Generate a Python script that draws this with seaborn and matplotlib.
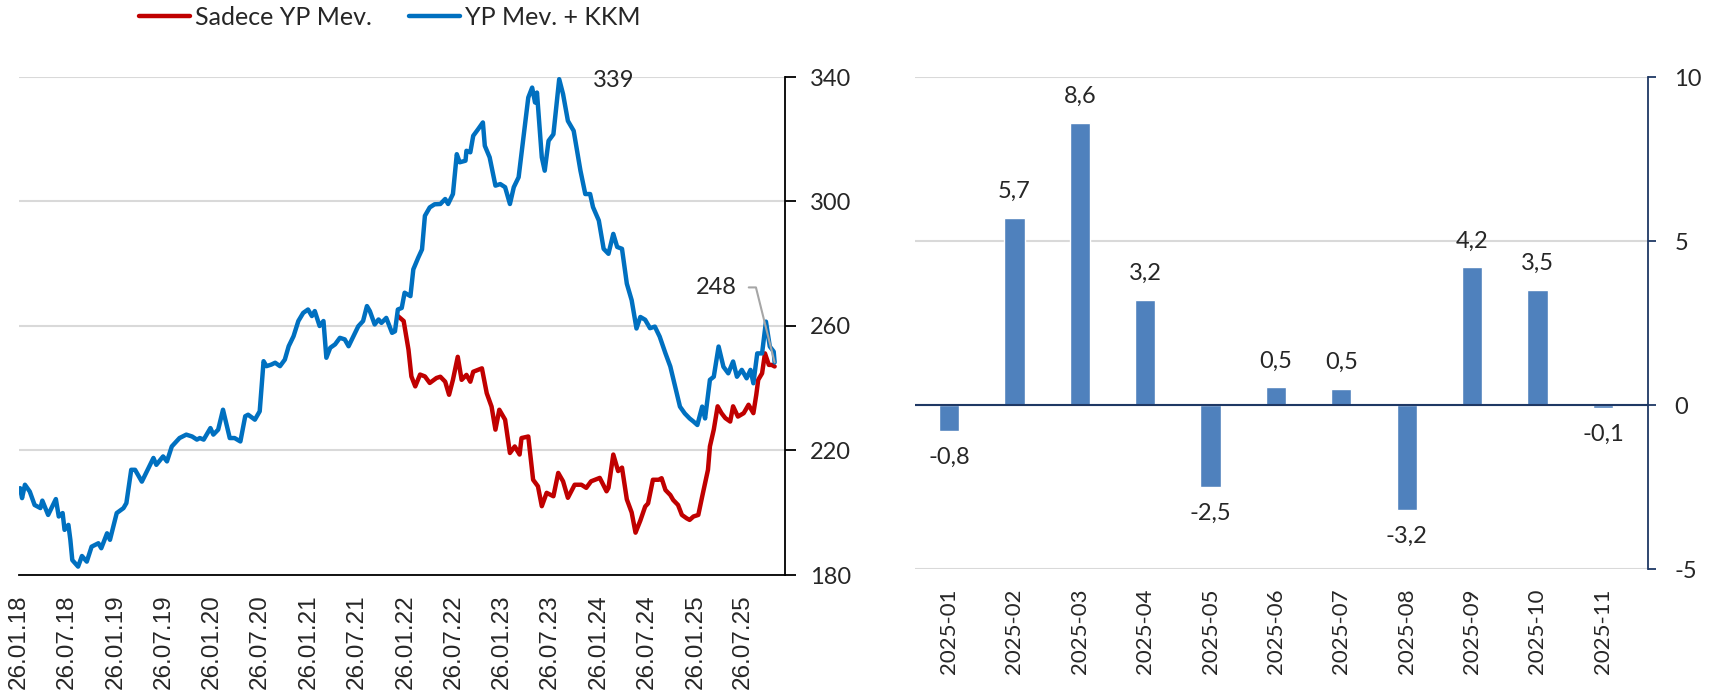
import matplotlib
matplotlib.use("Agg")
import matplotlib.pyplot as plt
import numpy as np
import pandas as pd
import seaborn as sns

# FX deposits index (weekly, 26.01.2018 = ~208), dates given as decimal years
blue_years = [2018.08, 2018.10, 2018.13, 2018.18, 2018.23, 2018.29, 2018.31, 2018.37, 2018.45, 2018.48,
              2018.52, 2018.54, 2018.58, 2018.60, 2018.62, 2018.68, 2018.72, 2018.77, 2018.82, 2018.89,
              2018.92, 2018.98, 2019.01, 2019.08, 2019.15, 2019.18, 2019.23, 2019.27, 2019.34, 2019.41,
              2019.46, 2019.49, 2019.56, 2019.60, 2019.65, 2019.73, 2019.80, 2019.86, 2019.91, 2019.94,
              2019.98, 2020.05, 2020.08, 2020.13, 2020.18, 2020.25, 2020.30, 2020.36, 2020.41, 2020.44,
              2020.51, 2020.56, 2020.60, 2020.63, 2020.68, 2020.72, 2020.77, 2020.82, 2020.86, 2020.91,
              2020.96, 2021.01, 2021.06, 2021.10, 2021.13, 2021.18, 2021.22, 2021.25, 2021.29, 2021.34,
              2021.39, 2021.44, 2021.48, 2021.53, 2021.58, 2021.63, 2021.67, 2021.70, 2021.75, 2021.79,
              2021.82, 2021.87, 2021.93, 2021.96, 2021.99, 2022.03, 2022.06, 2022.12, 2022.15, 2022.20,
              2022.24, 2022.27, 2022.32, 2022.37, 2022.43, 2022.48, 2022.51, 2022.56, 2022.60, 2022.63,
              2022.69, 2022.70, 2022.74, 2022.77, 2022.82, 2022.87, 2022.89, 2022.94, 2023.00, 2023.05,
              2023.10, 2023.15, 2023.19, 2023.24, 2023.29, 2023.34, 2023.38, 2023.41, 2023.43, 2023.48,
              2023.51, 2023.55, 2023.60, 2023.66, 2023.70, 2023.75, 2023.81, 2023.88, 2023.93, 2023.98,
              2024.01, 2024.07, 2024.12, 2024.17, 2024.22, 2024.26, 2024.31, 2024.36, 2024.41, 2024.46,
              2024.50, 2024.55, 2024.60, 2024.65, 2024.70, 2024.76, 2024.81, 2024.86, 2024.91, 2024.96,
              2025.01, 2025.05, 2025.09, 2025.14, 2025.17, 2025.22, 2025.26, 2025.31, 2025.36, 2025.41,
              2025.46, 2025.50, 2025.55, 2025.60, 2025.64, 2025.67, 2025.71, 2025.76, 2025.80, 2025.84,
              2025.88, 2025.89]
blue_vals = [207.9, 204.7, 209.0, 206.8, 202.5, 201.5, 203.9, 199.3, 204.4, 198.8,
             199.9, 194.5, 196.1, 191.3, 184.8, 182.7, 186.1, 184.3, 189.1, 190.2,
             188.6, 193.4, 191.3, 199.9, 201.5, 203.1, 213.8, 213.8, 210.0, 214.4,
             217.6, 215.4, 218.1, 216.5, 221.3, 224.0, 225.1, 224.5, 223.5, 224.0,
             223.5, 227.2, 225.1, 226.7, 233.1, 224.0, 224.0, 222.9, 231.0, 231.5,
             229.9, 232.6, 248.7, 247.1, 247.6, 248.2, 247.1, 249.2, 253.5, 256.7,
             261.6, 264.2, 265.3, 263.2, 264.8, 260.0, 261.6, 249.8, 253.0, 254.1,
             256.2, 255.7, 253.5, 256.7, 259.9, 261.6, 266.4, 264.8, 260.5, 262.1,
             261.0, 262.6, 257.8, 258.3, 265.3, 265.8, 270.7, 269.6, 278.2, 281.9,
             284.6, 295.4, 298.1, 299.1, 299.2, 300.8, 299.2, 302.4, 315.2, 312.6,
             313.1, 316.3, 315.8, 321.1, 323.2, 325.4, 317.9, 314.2, 305.1, 305.6,
             304.6, 299.2, 304.6, 307.8, 320.6, 333.4, 336.6, 331.8, 335.0, 314.2,
             309.9, 319.5, 321.6, 339.3, 334.5, 325.9, 322.7, 309.9, 302.4, 302.4,
             298.2, 293.9, 284.8, 283.2, 289.6, 285.4, 284.8, 273.6, 268.3, 259.2,
             262.9, 262.0, 259.3, 259.8, 256.6, 251.2, 247.0, 240.5, 234.1, 231.9,
             230.3, 229.3, 228.2, 234.1, 230.3, 242.7, 243.7, 253.4, 246.9, 244.8,
             248.6, 243.7, 245.9, 243.2, 245.9, 241.6, 251.2, 251.2, 261.4, 253.4,
             251.8, 248.3]

# FX deposits only (KKM excluded), starts end of 2021
red_years = [2021.99, 2022.05, 2022.10, 2022.13, 2022.17, 2022.22, 2022.27, 2022.32, 2022.39, 2022.43,
             2022.48, 2022.52, 2022.56, 2022.61, 2022.65, 2022.70, 2022.74, 2022.77, 2022.86, 2022.91,
             2022.96, 2023.00, 2023.04, 2023.10, 2023.15, 2023.20, 2023.25, 2023.27, 2023.34, 2023.39,
             2023.44, 2023.48, 2023.53, 2023.60, 2023.65, 2023.70, 2023.75, 2023.82, 2023.89, 2023.94,
             2023.99, 2024.08, 2024.15, 2024.17, 2024.22, 2024.27, 2024.31, 2024.36, 2024.41, 2024.45,
             2024.50, 2024.55, 2024.58, 2024.63, 2024.69, 2024.72, 2024.76, 2024.81, 2024.84, 2024.89,
             2024.93, 2024.98, 2025.01, 2025.05, 2025.10, 2025.14, 2025.17, 2025.20, 2025.22, 2025.26,
             2025.30, 2025.34, 2025.38, 2025.43, 2025.46, 2025.51, 2025.57, 2025.62, 2025.67, 2025.70,
             2025.72, 2025.76, 2025.79, 2025.83, 2025.86, 2025.89]
red_vals = [263.2, 261.6, 252.4, 243.8, 240.6, 244.4, 243.8, 241.7, 243.3, 243.7,
            242.1, 237.9, 242.7, 250.1, 242.7, 244.3, 242.1, 245.3, 246.4, 238.4,
            234.1, 226.7, 233.1, 229.9, 219.2, 221.3, 218.7, 224.0, 224.5, 210.6,
            208.5, 202.1, 206.4, 205.3, 212.8, 210.1, 204.8, 209.0, 209.0, 208.0,
            210.1, 211.2, 206.9, 208.0, 218.7, 213.4, 214.5, 204.3, 200.1, 193.6,
            197.5, 202.0, 203.0, 210.6, 210.6, 211.1, 207.3, 205.7, 204.1, 202.5,
            199.3, 198.2, 197.7, 198.8, 199.3, 205.2, 209.5, 213.8, 221.3, 226.7,
            234.2, 232.0, 230.4, 229.3, 234.2, 230.9, 232.0, 234.7, 232.0, 237.9,
            242.7, 244.8, 251.2, 247.5, 247.5, 247.0]

tick_dates = ["2018-01-26", "2018-07-26", "2019-01-26", "2019-07-26", "2020-01-26", "2020-07-26",
              "2021-01-26", "2021-07-26", "2022-01-26", "2022-07-26", "2023-01-26", "2023-07-26",
              "2024-01-26", "2024-07-26", "2025-01-26", "2025-07-26"]
tick_labels = ["26.01.18", "26.07.18", "26.01.19", "26.07.19", "26.01.20", "26.07.20",
               "26.01.21", "26.07.21", "26.01.22", "26.07.22", "26.01.23", "26.07.23",
               "26.01.24", "26.07.24", "26.01.25", "26.07.25"]

# monthly change (bn USD)
months = ["2025-01", "2025-02", "2025-03", "2025-04", "2025-05", "2025-06",
          "2025-07", "2025-08", "2025-09", "2025-10", "2025-11"]
changes = [-0.8, 5.7, 8.6, 3.2, -2.5, 0.54, 0.5, -3.2, 4.2, 3.5, -0.1]

RED = "#C00000"
BLUE = "#0070C0"
BAR = "#4F81BD"
NAVY = "#1F3864"
GRID = "#D9D9D9"


def to_dates(years):
    yrs = np.asarray(years, dtype=float)
    return pd.Timestamp("2018-01-01") + pd.to_timedelta((yrs - 2018) * 365.25, unit="D")


sns.set_style("white")
plt.rcParams["font.family"] = ["Lato", "DejaVu Sans"]
plt.rcParams["axes.unicode_minus"] = False

lines_df = pd.concat([
    pd.DataFrame({"tarih": to_dates(red_years), "deger": red_vals, "seri": "Sadece YP Mev."}),
    pd.DataFrame({"tarih": to_dates(blue_years), "deger": blue_vals, "seri": "YP Mev. + KKM"}),
], ignore_index=True)

fig = plt.figure(figsize=(17.19, 6.97), dpi=100)
ax1 = fig.add_axes([19 / 1719, 1 - 575 / 697, 766 / 1719, 498 / 697])
ax2 = fig.add_axes([915 / 1719, 1 - 569 / 697, 733 / 1719, 492 / 697])

# left: level of FX deposits
sns.lineplot(data=lines_df, x="tarih", y="deger", hue="seri",
             hue_order=["Sadece YP Mev.", "YP Mev. + KKM"],
             palette={"Sadece YP Mev.": RED, "YP Mev. + KKM": BLUE},
             lw=3.2, legend=False, ax=ax1)
ax1.set_xlim(pd.Timestamp("2018-01-26"), pd.Timestamp("2025-12-31"))
ax1.set_ylim(180, 340)
ax1.set_yticks([180, 220, 260, 300, 340])
ax1.yaxis.tick_right()
ax1.grid(axis="y", color=GRID, lw=1.5)
ax1.grid(axis="x", visible=False)
ax1.set_xticks(pd.to_datetime(tick_dates), labels=tick_labels, rotation=90,
               fontsize=17.5, fontfamily="Liberation Sans")
ax1.tick_params(axis="x", length=8, width=1.3, color="black", pad=6)
ax1.tick_params(axis="y", length=8, width=1.3, color="black", labelsize=17, pad=10)
for s in ["left", "top"]:
    ax1.spines[s].set_visible(False)
for s in ["right", "bottom"]:
    ax1.spines[s].set_color("black")
    ax1.spines[s].set_linewidth(1.3)
ax1.set_xlabel("")
ax1.set_ylabel("")

blue_dates = to_dates(blue_years)
peak = int(np.argmax(blue_vals))
ax1.annotate(f"{blue_vals[peak]:.0f}", xy=(blue_dates[peak], blue_vals[peak]),
             xytext=(24, -1), textcoords="offset points", ha="left", va="center", fontsize=17)
ax1.annotate(f"{blue_vals[-1]:.0f}", xy=(blue_dates[-1], blue_vals[-1]),
             xytext=(-27, 54), textcoords="offset points", ha="right", va="center", fontsize=17,
             arrowprops=dict(arrowstyle="-", color="#A6A6A6", lw=1.5, relpos=(1, 0.5),
                             shrinkA=6, shrinkB=0,
                             connectionstyle="angle,angleA=0,angleB=104,rad=0"))

fig.legend(handles=ax1.lines[:2], labels=["Sadece YP Mev.", "YP Mev. + KKM"], ncol=2,
           loc="center", bbox_to_anchor=(0.2267, 0.975), frameon=False, fontsize=18,
           handlelength=2.05, handletextpad=0.2, columnspacing=1.5)

# right: monthly change
sns.barplot(x=months, y=changes, color=BAR, saturation=1, width=0.31, ax=ax2)
ax2.set_xlim(-0.52, 10.69)
ax2.set_ylim(-5, 10)
ax2.set_yticks([-5, 0, 5, 10])
ax2.yaxis.tick_right()
ax2.grid(axis="y", color=GRID, lw=1.5)
ax2.grid(axis="x", visible=False)
ax2.set_axisbelow(True)
ax2.axhline(0, color=NAVY, lw=1.5)
for s in ["left", "top", "bottom"]:
    ax2.spines[s].set_visible(False)
ax2.spines["right"].set_color(NAVY)
ax2.spines["right"].set_linewidth(1.3)
ax2.tick_params(axis="y", length=6, width=1.3, color=NAVY, labelsize=17, pad=13)
ax2.set_xticks(range(len(months)), labels=months, rotation=90, fontsize=16)
ax2.tick_params(axis="x", length=0, pad=14)
for i, v in enumerate(changes):
    ax2.annotate(f"{v:.1f}".replace(".", ","), xy=(i, v), xytext=(0, 19 if v > 0 else -19),
                 textcoords="offset points", ha="center", va="center", fontsize=17)
ax2.set_xlabel("")
ax2.set_ylabel("")

fig.savefig("out.png", dpi=100)
